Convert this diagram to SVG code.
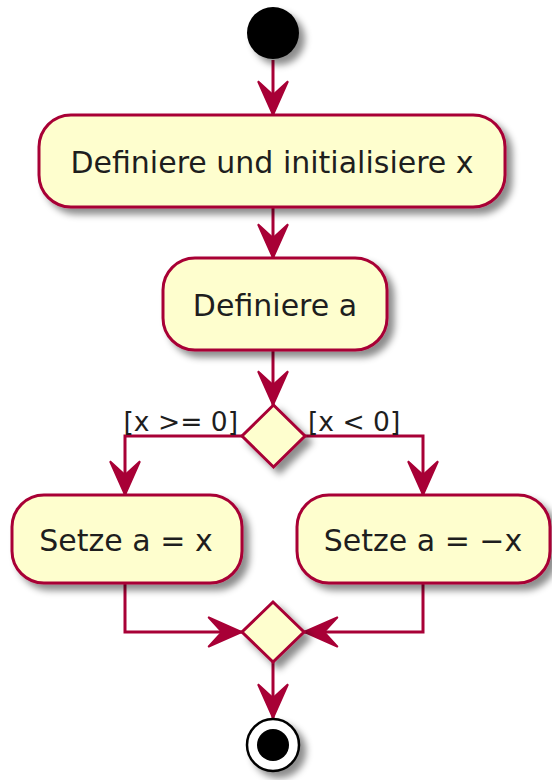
<svg xmlns="http://www.w3.org/2000/svg" width="552" height="780" viewBox="0 0 552 780">
  <defs>
    <filter id="sh" x="-20%" y="-20%" width="150%" height="160%">
      <feGaussianBlur in="SourceAlpha" stdDeviation="3.5"/>
      <feOffset dx="6" dy="6" result="b"/>
      <feFlood flood-color="#000" flood-opacity="0.45"/>
      <feComposite in2="b" operator="in"/>
      <feMerge><feMergeNode/><feMergeNode in="SourceGraphic"/></feMerge>
    </filter>
    <marker id="arr" markerUnits="userSpaceOnUse" markerWidth="40" markerHeight="40" viewBox="-30 -15 32 30" refX="0" refY="0" orient="auto">
      <path d="M0,0 L-27,-12 L-16,0 L-27,12 Z" fill="#A80036" stroke="#A80036" stroke-width="1.5" stroke-linejoin="miter"/>
    </marker>
  </defs>
  <style>
    .box { fill: #FEFECE; stroke: #A80036; stroke-width: 3; }
    .t { font-family: "DejaVu Sans", "Liberation Sans", sans-serif; font-size: 30px; fill: #1e1e1e; text-anchor: middle; }
    .lbl { font-family: "DejaVu Sans", "Liberation Sans", sans-serif; font-size: 26.5px; fill: #1e1e1e; }
    .ln { fill: none; stroke: #A80036; stroke-width: 3; }
  </style>

  <g id="connectors">
    <path class="ln" d="M273,60 L273,115" marker-end="url(#arr)"/>
    <path class="ln" d="M273,207 L273,258" marker-end="url(#arr)"/>
    <path class="ln" d="M273,350 L273,405" marker-end="url(#arr)"/>
    <path class="ln" d="M242,436 L125,436 L125,495" marker-end="url(#arr)"/>
    <path class="ln" d="M305,436 L423,436 L423,495" marker-end="url(#arr)"/>
    <path class="ln" d="M125,583 L125,632 L242,632" marker-end="url(#arr)"/>
    <path class="ln" d="M423,583 L423,632 L304,632" marker-end="url(#arr)"/>
    <path class="ln" d="M273,662 L273,718" marker-end="url(#arr)"/>
    <text class="lbl" x="238" y="431" text-anchor="end">[x &gt;= 0]</text>
    <text class="lbl" x="308" y="431">[x &lt; 0]</text>
  </g>

  <g id="start">
    <circle cx="273" cy="33" r="26" fill="#000" filter="url(#sh)"/>
  </g>

  <g id="n1">
    <rect class="box" x="39" y="115" width="466" height="92" rx="32" filter="url(#sh)"/>
    <text class="t" x="272" y="173">Definiere und initialisiere x</text>
  </g>

  <g id="n2">
    <rect class="box" x="163" y="258" width="224" height="92" rx="32" filter="url(#sh)"/>
    <text class="t" x="275" y="316">Definiere a</text>
  </g>

  <g id="d1">
    <polygon class="box" points="273.5,405 305,436 273.5,467 242,436" filter="url(#sh)"/>
  </g>

  <g id="n3">
    <rect class="box" x="12" y="495" width="230" height="88" rx="32" filter="url(#sh)"/>
    <text class="t" x="126" y="551">Setze a = x</text>
  </g>

  <g id="n4">
    <rect class="box" x="297" y="495" width="253" height="88" rx="32" filter="url(#sh)"/>
    <text class="t" x="423" y="551">Setze a = −x</text>
  </g>

  <g id="d2">
    <polygon class="box" points="273,602 304,632 273,662 242,632" filter="url(#sh)"/>
  </g>

  <g id="end">
    <circle cx="273" cy="745" r="26" fill="#fff" stroke="#000" stroke-width="2.5" filter="url(#sh)"/>
    <circle cx="273" cy="745" r="16" fill="#000"/>
  </g>
</svg>
